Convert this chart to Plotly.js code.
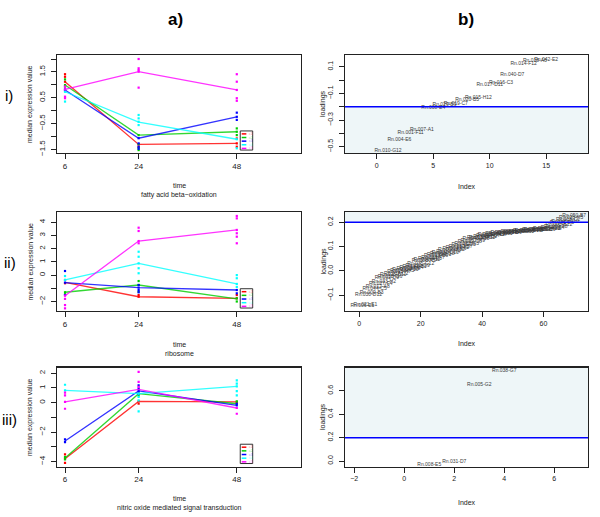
<!DOCTYPE html>
<html><head><meta charset="utf-8">
<script src="https://cdn.plot.ly/plotly-3.0.1.min.js"></script>
<style>body{margin:0;background:#fff}</style>
</head><body>
<div id="chart" style="width:600px;height:517px"></div>
<script>
// ---------------- data ----------------
const times = [6, 24, 48];
const seriesNames = ['c1', 'c2', 'c3', 'c4', 'c5'];
const seriesColors = ['#FF0000', '#00CD00', '#0000FF', '#00FFFF', '#FF00FF'];
const pathways = ['fatty acid beta\u2212oxidation', 'ribosome', 'nitric oxide mediated signal transduction'];

// row i) medians (red, green, blue, cyan, magenta)
const p1_median = [
  [1.12, -1.31, -1.27],
  [0.99, -0.95, -0.82],
  [0.80, -1.07, -0.24],
  [0.73, -0.45, -1.11],
  [0.82, 1.51, 0.80]
];
const p1_pt_series = [0,0,0,0,0,0,0,0, 1,1,1,1,1,1,1,1,1,1, 2,2,2,2,2,2,2,2,2, 3,3,3,3,3,3,3,3, 4,4,4,4,4,4,4,4,4,4,4,4,4,4];
const p1_pt_time   = [6,6,6,24,24,48,48,48, 6,6,6,24,24,24,24,48,48,48, 6,6,24,24,24,24,48,48,48, 6,6,24,24,24,24,48,48, 6,6,6,6,24,24,24,24,24,48,48,48,48,48];
const p1_pt_value  = [1.41,1.31,1.12,-1.31,-1.40,-1.27,-1.08,-1.40,
                      1.21,0.99,0.93,-0.95,-1.30,-1.45,-1.53,-0.69,-0.82,-0.95,
                      0.82,0.78,-1.07,-1.27,-1.40,-1.48,-0.08,-0.24,-0.36,
                      0.73,0.35,-0.17,-0.30,-0.43,-0.56,-1.11,-1.46,
                      0.93,0.82,0.54,0.48,2.00,1.64,1.57,1.51,0.89,1.41,1.12,0.80,0.48,0.38];

// row ii)
const p2_median = [
  [-0.55, -1.64, -1.76],
  [-1.30, -0.75, -1.80],
  [-0.57, -0.95, -1.13],
  [-0.37, 0.89, -0.67],
  [-1.56, 2.58, 3.42]
];
const p2_pt_series = [0,0,0,0,0,0, 1,1,1,1,1,1,1, 2,2,2,2,2,2,2,2,2, 3,3,3,3,3,3,3,3,3,3,3, 4,4,4,4,4,4,4,4,4,4,4,4,4,4];
const p2_pt_time   = [6,6,24,24,48,48, 6,6,24,24,24,48,48, 6,6,6,24,24,24,24,48,48, 6,6,24,24,24,24,24,48,48,48,48, 6,6,6,6,24,24,24,24,48,48,48,48,48,48];
const p2_pt_value  = [-0.37,-0.62,-1.64,-1.51,-1.51,-1.76,
                      -1.30,-1.45,-0.45,-0.75,-1.26,-1.76,-2.00,
                      0.31,-0.57,-1.51,-0.75,-0.95,-1.13,-1.30,-1.13,-1.38,
                      -0.07,-0.37,1.77,1.39,0.89,0.52,0.14,0.00,-0.24,-0.67,-0.90,
                      -1.56,-1.80,-2.27,-2.52,3.59,3.34,2.58,2.41,4.48,4.30,3.42,3.17,2.91,2.41];

// row iii)
const p3_median = [
  [-3.80, 0.09, 0.05],
  [-3.76, 0.61, -0.07],
  [-2.60, 0.80, -0.18],
  [0.84, 0.61, 1.11],
  [0.05, 0.91, -0.36]
];
const p3_pt_series = [0,0,0,0,0,0, 1,1,1,1,1,1, 2,2,2,2,2,2,2,2, 3,3,3,3,3,3,3,3,3,3,3, 4,4,4,4,4,4,4,4,4];
const p3_pt_time   = [6,6,6,24,24,48, 6,6,24,24,48,48, 6,6,24,24,24,24,48,48, 6,6,24,24,24,24,48,48,48,48,48, 6,6,6,6,24,24,24,48,48];
const p3_pt_value  = [-3.51,-3.80,-4.08,0.09,-0.07,0.05,
                      -3.69,-3.85,0.61,0.50,0.09,-0.07,
                      -2.49,-2.67,1.18,0.95,0.80,0.61,-0.18,-0.07,
                      1.22,0.84,0.61,0.39,0.16,-0.59,1.52,1.29,1.11,0.78,0.50,
                      0.68,0.50,0.05,-0.41,2.09,1.41,1.07,-0.36,-0.75];

// loadings (b column)
const b1_labels = ['Rn.010-G12','Rn.004-E6','Rn.001-F11','Rn.007-A1','Rn.008-E4','Rn.029-B9','Rn.019-C7','Rn.020-B5',
                   'Rn.015-H12','Rn.017-D11','Rn.016-C3','Rn.040-D7','Rn.014-F12','Rn.018-A6','Rn.042-E2'];
const b1_values = [-0.532,-0.445,-0.392,-0.370,-0.205,-0.187,-0.175,-0.145,-0.132,-0.032,-0.020,0.038,0.122,0.143,0.156];
const b1_threshold = -0.2;

const b2_labels = ['Rn.006-E1','Rn.021-E1','Rn.030-D12','Rn.009-B3','Rn.044-C5','Rn.012-A8','Rn.027-F4','Rn.033-H2','Rn.002-D9','Rn.018-G6',
  'Rn.025-B11','Rn.037-C2','Rn.011-H7','Rn.046-A3','Rn.003-F10','Rn.029-E8','Rn.014-D4','Rn.041-B1','Rn.022-G9','Rn.035-C12',
  'Rn.008-A5','Rn.019-H11','Rn.043-E3','Rn.026-F7','Rn.013-B6','Rn.039-D1','Rn.005-G8','Rn.031-C10','Rn.047-H4','Rn.016-A12',
  'Rn.024-E9','Rn.036-F2','Rn.010-B7','Rn.045-D5','Rn.020-G3','Rn.032-C8','Rn.007-H9','Rn.040-A10','Rn.015-E6','Rn.028-F11',
  'Rn.048-B2','Rn.004-D7','Rn.034-G12','Rn.017-C4','Rn.042-H6','Rn.023-A1','Rn.038-E11','Rn.001-F5','Rn.030-B9','Rn.049-D3',
  'Rn.012-G4','Rn.027-C6','Rn.044-H1','Rn.006-A7','Rn.033-E10','Rn.019-F3','Rn.041-B8','Rn.009-D11','Rn.036-G5','Rn.022-C9',
  'Rn.047-H12','Rn.014-A2','Rn.025-E4','Rn.039-F8','Rn.003-B12','Rn.031-D6','Rn.045-G10','Rn.018-C1','Rn.028-H5','Rn.050-B7'];
const b2_values = [-0.142,-0.140,-0.098,-0.090,-0.075,-0.065,-0.055,-0.045,-0.030,-0.025,
  -0.018,-0.010,-0.005,0.000,0.003,0.008,0.012,0.015,0.022,0.030,
  0.040,0.045,0.050,0.055,0.062,0.068,0.072,0.076,0.080,0.085,
  0.090,0.095,0.100,0.106,0.112,0.118,0.124,0.130,0.135,0.138,
  0.141,0.144,0.147,0.149,0.151,0.153,0.155,0.156,0.158,0.159,
  0.160,0.161,0.162,0.164,0.165,0.166,0.167,0.168,0.170,0.171,
  0.173,0.175,0.178,0.183,0.190,0.196,0.203,0.210,0.218,0.226];
const b2_threshold = 0.2;

const b3_labels = ['Rn.008-E5','Rn.031-D7','Rn.005-G2','Rn.038-G7'];
const b3_values = [-0.028,-0.006,0.650,0.772];
const b3_threshold = 0.2;

// ---------------- build ----------------
const FONT = 'Liberation Sans, Arial, sans-serif';
const traces = [];
const shapes = [];
const annotations = [];

function addPanel(xa, ya, medians, ptSeries, ptTime, ptValue) {
  seriesColors.forEach((c, s) => {
    const xs = [], ys = [];
    ptSeries.forEach((ser, i) => { if (ser === s) { xs.push(ptTime[i]); ys.push(ptValue[i]); } });
    traces.push({type:'scatter', mode:'markers', x:xs, y:ys, xaxis:xa, yaxis:ya,
      marker:{color:c, size:2.2, symbol:'square', line:{width:0}}, showlegend:false, hoverinfo:'skip'});
    traces.push({type:'scatter', mode:'lines', x:times, y:medians[s], xaxis:xa, yaxis:ya,
      line:{color:c, width:1.3}, opacity:0.8, showlegend:false, name:seriesNames[s]});
  });
  // small legend box (bottom right)
  const xr = xa + ' domain', yr = ya + ' domain';
  shapes.push({type:'rect', xref:xr, yref:yr, x0:0.751, x1:0.802, y0:0.03, y1:0.225,
    line:{color:'#333', width:1}, fillcolor:'#fff'});
  seriesColors.forEach((c, s) => {
    const yy = 0.195 - s * 0.037;
    shapes.push({type:'line', xref:xr, yref:yr, x0:0.757, x1:0.776, y0:yy, y1:yy, line:{color:c, width:1.5}});
    annotations.push({xref:xr, yref:yr, x:0.778, y:yy, xanchor:'left', yanchor:'middle', showarrow:false,
      text:seriesNames[s], font:{size:3.5, color:c, family:FONT}, opacity:0.45});
  });
}

function addLoadings(xa, ya, labels, values, thr, above, yrange) {
  const idx = values.map((_, i) => i + 1);
  shapes.push({type:'rect', xref:xa + ' domain', yref:ya, x0:0, x1:1, y0:thr, y1: above ? yrange[1] : yrange[0],
    fillcolor:'#eef6f8', line:{width:0}, layer:'below'});
  shapes.push({type:'line', xref:xa + ' domain', yref:ya, x0:0, x1:1, y0:thr, y1:thr, line:{color:'#0000FF', width:1.5}});
  traces.push({type:'scatter', mode:'text', x:idx, y:values, text:labels, textposition:'middle center',
    textfont:{size:5, color:'#3a3a3a', family:FONT}, xaxis:xa, yaxis:ya, showlegend:false, hoverinfo:'text'});
}

const leftDom = [57/600, 301/600];
const rightDom = [345/600, 588/600];
const rowDom = [[1-153/517, 1-55/517], [1-311/517, 1-212/517], [1-466.5/517, 1-367.5/517]];

const leftX = {range:[4.04, 63.7], tickvals:times, ticktext:times.map(String)};
const yRanges = {
  a1:[-1.643, 2.155], b1:[-0.547, 0.188],
  a2:[-2.72, 4.78],   b2:[-0.165, 0.242],
  a3:[-4.33, 2.39],   b3:[-0.047, 0.80]
};

addPanel('x', 'y', p1_median, p1_pt_series, p1_pt_time, p1_pt_value);
addLoadings('x2', 'y2', b1_labels, b1_values, b1_threshold, false, yRanges.b1);
addPanel('x3', 'y3', p2_median, p2_pt_series, p2_pt_time, p2_pt_value);
addLoadings('x4', 'y4', b2_labels, b2_values, b2_threshold, true, yRanges.b2);
addPanel('x5', 'y5', p3_median, p3_pt_series, p3_pt_time, p3_pt_value);
addLoadings('x6', 'y6', b3_labels, b3_values, b3_threshold, true, yRanges.b3);

function ax(extra, fs, standoff) {
  return Object.assign({showgrid:false, zeroline:false, showline:true, mirror:true, linecolor:'#222', linewidth:1.3,
    ticks:'outside', ticklen:5, tickcolor:'#222', tickwidth:1, tickmode:'array',
    ticklabelstandoff: standoff === undefined ? 3 : standoff,
    tickfont:{size:fs || 8, color:'#222', family:FONT}, fixedrange:true}, extra);
}
const M = '\u2212';
const layout = {
  width:600, height:517, margin:{l:0, r:0, t:0, b:0}, paper_bgcolor:'#fff', plot_bgcolor:'rgba(0,0,0,0)',
  showlegend:false, font:{family:FONT},
  xaxis:  ax(Object.assign({domain:leftDom, anchor:'y'}, leftX), 8, 0),
  yaxis:  ax({domain:rowDom[0], anchor:'x', range:yRanges.a1, tickangle:-90,
            tickvals:[-1.5,-1,-0.5,0,0.5,1,1.5,2], ticktext:[M+'1.5','',M+'0.5','','0.5','','1.5','']}),
  xaxis2: ax({domain:rightDom, anchor:'y2', range:[-2.81, 18.7], tickvals:[0,5,10,15], ticktext:['0','5','10','15']}, 7, 0),
  yaxis2: ax({domain:rowDom[0], anchor:'x2', range:yRanges.b1, tickangle:-90,
            tickvals:[-0.5,-0.4,-0.3,-0.2,-0.1,0,0.1], ticktext:[M+'0.5','',M+'0.3','',M+'0.1','','0.1']}, 7),
  xaxis3: ax(Object.assign({domain:leftDom, anchor:'y3'}, leftX), 8, 0),
  yaxis3: ax({domain:rowDom[1], anchor:'x3', range:yRanges.a2, tickangle:-90,
            tickvals:[-2,-1,0,1,2,3,4], ticktext:[M+'2','','0','1','2','3','4']}),
  xaxis4: ax({domain:rightDom, anchor:'y4', range:[-4.66, 74.5], tickvals:[0,20,40,60], ticktext:['0','20','40','60']}, 7, 0),
  yaxis4: ax({domain:rowDom[1], anchor:'x4', range:yRanges.b2, tickangle:-90,
            tickvals:[-0.1,0,0.1,0.2], ticktext:[M+'0.1','0.0','0.1','0.2']}, 7),
  xaxis5: ax(Object.assign({domain:leftDom, anchor:'y5'}, leftX), 8, 0),
  yaxis5: ax({domain:rowDom[2], anchor:'x5', range:yRanges.a3, tickangle:-90,
            tickvals:[-4,-3,-2,-1,0,1,2], ticktext:[M+'4','',M+'2','','0','1','2']}),
  xaxis6: ax({domain:rightDom, anchor:'y6', range:[-2.37, 7.35], tickvals:[-2,0,2,4,6], ticktext:[M+'2','0','2','4','6']}, 7, 0),
  yaxis6: ax({domain:rowDom[2], anchor:'x6', range:yRanges.b3, tickangle:-90,
            tickvals:[0,0.2,0.4,0.6], ticktext:['0.0','0.2','0.4','0.6']}, 7),
  shapes:shapes, annotations:annotations
};

function paperText(text, x, yPx, size, opts) {
  annotations.push(Object.assign({xref:'paper', yref:'paper', x:x/600, y:1-yPx/517, xanchor:'center', yanchor:'middle',
    showarrow:false, text:text, font:{size:size, color:'#222', family:FONT}}, opts || {}));
}
paperText('<b>a)</b>', 175, 20, 17, {font:{size:17, color:'#000', family:FONT}});
paperText('<b>b)</b>', 466, 20, 17, {font:{size:17, color:'#000', family:FONT}});
paperText('i)', 9, 95, 15, {font:{size:15, color:'#000', family:FONT}});
paperText('ii)', 10, 262, 15, {font:{size:15, color:'#000', family:FONT}});
paperText('iii)', 9, 419, 15, {font:{size:15, color:'#000', family:FONT}});

const rowCenters = [104, 261.5, 417];
const timeY = [185, 344, 498];
const subY = [195, 353.5, 507.5];
const indexY = [186, 343, 502];
rowCenters.forEach((yc, r) => {
  paperText('median expression value', 30, yc, 7, {textangle:-90});
  paperText('loadings', 323, yc, 7, {textangle:-90});
  paperText('time', 179, timeY[r], 7);
  paperText(pathways[r], 179, subY[r], 7);
  paperText('Index', 466.5, indexY[r], 7);
});

Plotly.newPlot('chart', traces, layout, {staticPlot:true, displayModeBar:false});
</script>
</body></html>
